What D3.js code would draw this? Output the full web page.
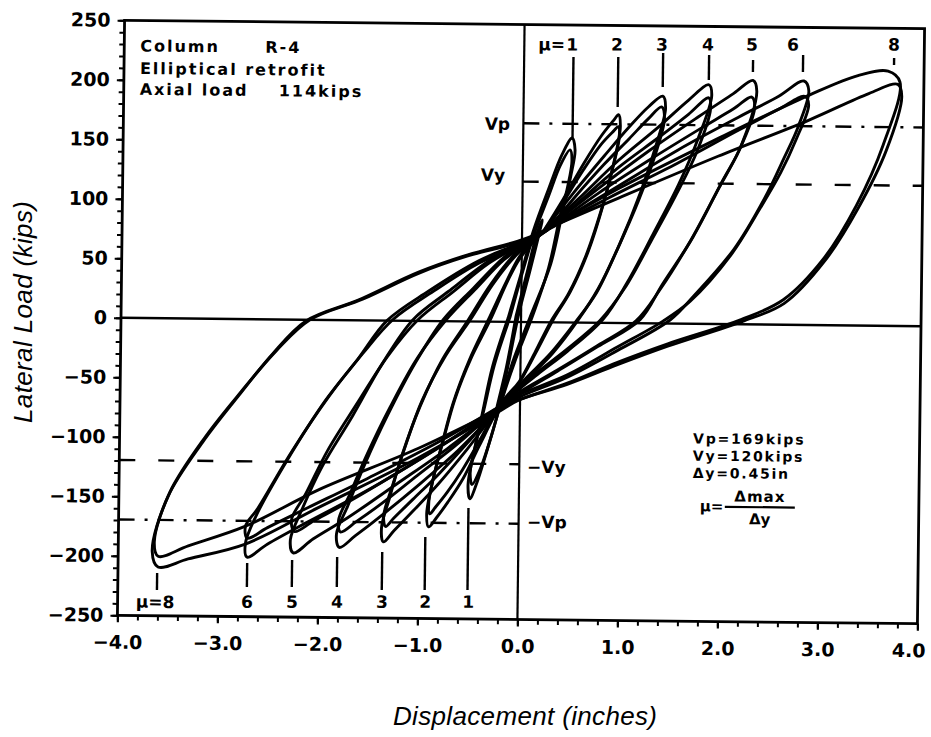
<!DOCTYPE html>
<html><head><meta charset="utf-8">
<script src="https://cdn.jsdelivr.net/npm/d3@7"></script>
<style>body{margin:0;background:#fff} svg{display:block;background:#fff}</style>
</head><body>
<svg id="chart" width="931" height="737"></svg>
<script>
// ---------- axis data ----------
const xTickValues = [-4,-3,-2,-1,0,1,2,3,4];
const xTickLabels = ["\u22124.0","\u22123.0","\u22122.0","\u22121.0","0.0","1.0","2.0","3.0","4.0"];
const yTickValues = [250,200,150,100,50,0,-50,-100,-150,-200,-250];
const yTickLabels = ["250","200","150","100","50","0","\u221250","\u2212100","\u2212150","\u2212200","\u2212250"];

// ---------- hysteresis loops: [displacement (in), lateral load (kips)] ----------
const loopElastic = [
  [[-0.05,5],[0.05,40],[0.15,75],[0.2,86],[0.17,74],[0.08,42],[-0.02,8],[-0.12,-35],[-0.2,-68],[-0.25,-80],[-0.22,-68],[-0.14,-38],[-0.05,5]]
];
const loopsMu1 = [
  [[-0.13,3],[-0.01,39],[0.11,76],[0.26,112],[0.39,141],[0.49,155],[0.52,145],[0.48,123],[0.4,92],[0.29,49],[0.09,4],[-0.08,-34],[-0.2,-71],[-0.32,-107],[-0.42,-135],[-0.49,-149],[-0.51,-137],[-0.46,-112],[-0.38,-79],[-0.28,-38],[-0.13,3]],
  [[-0.11,4],[0.0,39],[0.12,74],[0.26,106],[0.38,133],[0.47,145],[0.49,136],[0.45,114],[0.37,86],[0.27,46],[0.11,4],[-0.06,-34],[-0.19,-68],[-0.3,-101],[-0.4,-126],[-0.47,-137],[-0.49,-127],[-0.44,-104],[-0.36,-74],[-0.26,-36],[-0.11,4]]
];
const loopsMu2 = [
  [[0.21,76],[0.41,104],[0.61,134],[0.78,157],[0.9,170],[0.95,175],[0.97,165],[0.91,135],[0.81,100],[0.66,59],[0.49,26],[0.32,2],[0.15,-26],[-0.01,-51],[-0.13,-64],[-0.22,-74],[-0.4,-104],[-0.56,-132],[-0.71,-152],[-0.82,-165],[-0.9,-173],[-0.92,-162],[-0.87,-137],[-0.78,-105],[-0.67,-69],[-0.51,-32],[-0.33,1],[-0.15,34],[-0.03,54],[0.09,67],[0.21,76]],
  [[0.26,80],[0.43,104],[0.61,129],[0.78,150],[0.9,161],[0.95,165],[0.96,156],[0.89,127],[0.79,95],[0.64,56],[0.47,24],[0.3,1],[0.14,-26],[-0.01,-50],[-0.13,-62],[-0.22,-72],[-0.4,-100],[-0.57,-125],[-0.72,-144],[-0.83,-156],[-0.89,-162],[-0.9,-152],[-0.85,-129],[-0.76,-99],[-0.65,-65],[-0.49,-30],[-0.31,1],[-0.14,34],[-0.03,52],[0.1,66],[0.26,80]]
];
const loopsMu3 = [
  [[0.21,76],[0.51,109],[0.81,140],[1.06,165],[1.25,182],[1.39,191],[1.42,181],[1.33,150],[1.18,110],[0.98,67],[0.77,29],[0.57,2],[0.32,-26],[0.07,-48],[-0.08,-62],[-0.22,-74],[-0.52,-107],[-0.81,-137],[-1.06,-160],[-1.25,-177],[-1.35,-186],[-1.37,-174],[-1.29,-148],[-1.17,-112],[-1.0,-72],[-0.78,-32],[-0.53,1],[-0.31,31],[-0.08,56],[0.07,68],[0.21,76]],
  [[0.26,78],[0.51,104],[0.81,133],[1.06,155],[1.25,172],[1.38,182],[1.41,172],[1.32,141],[1.16,103],[0.96,63],[0.75,25],[0.55,1],[0.3,-26],[0.07,-46],[-0.08,-60],[-0.22,-72],[-0.52,-102],[-0.81,-129],[-1.06,-150],[-1.25,-166],[-1.33,-173],[-1.35,-164],[-1.27,-140],[-1.14,-105],[-0.98,-67],[-0.75,-29],[-0.51,1],[-0.29,31],[-0.08,54],[0.07,66],[0.26,78]]
];
const loopsMu4 = [
  [[0.21,76],[0.56,104],[0.96,137],[1.35,165],[1.65,188],[1.85,201],[1.88,192],[1.75,156],[1.56,117],[1.31,75],[1.05,33],[0.82,3],[0.47,-24],[0.17,-44],[-0.03,-58],[-0.22,-74],[-0.62,-109],[-1.02,-139],[-1.36,-163],[-1.63,-181],[-1.79,-191],[-1.82,-180],[-1.71,-156],[-1.54,-120],[-1.32,-79],[-1.05,-35],[-0.78,1],[-0.48,28],[-0.18,54],[0.02,66],[0.21,76]],
  [[0.26,78],[0.56,101],[0.96,131],[1.35,156],[1.65,176],[1.85,190],[1.87,181],[1.74,145],[1.54,109],[1.29,69],[1.03,29],[0.79,2],[0.47,-22],[0.17,-42],[-0.03,-56],[-0.22,-72],[-0.62,-103],[-1.02,-130],[-1.36,-153],[-1.62,-169],[-1.78,-178],[-1.8,-168],[-1.69,-146],[-1.52,-112],[-1.3,-73],[-1.03,-31],[-0.75,1],[-0.45,28],[-0.18,52],[0.02,64],[0.26,78]]
];
const loopsMu5 = [
  [[0.21,76],[0.76,113],[1.26,145],[1.75,174],[2.1,194],[2.29,205],[2.33,196],[2.18,150],[1.99,119],[1.71,73],[1.41,33],[1.19,3],[0.77,-20],[0.37,-41],[-0.03,-62],[-0.22,-74],[-0.72,-107],[-1.22,-137],[-1.71,-166],[-2.05,-184],[-2.25,-196],[-2.28,-185],[-2.16,-158],[-1.97,-123],[-1.67,-80],[-1.38,-36],[-1.08,1],[-0.73,25],[-0.33,51],[-0.03,66],[0.21,76]],
  [[0.26,78],[0.76,109],[1.26,137],[1.75,163],[2.1,181],[2.28,191],[2.31,182],[2.16,146],[1.96,114],[1.68,69],[1.39,29],[1.15,2],[0.77,-19],[0.37,-40],[-0.03,-60],[-0.22,-72],[-0.72,-101],[-1.22,-128],[-1.71,-153],[-2.05,-169],[-2.24,-178],[-2.27,-168],[-2.13,-146],[-1.92,-110],[-1.63,-70],[-1.33,-30],[-1.03,1],[-0.68,25],[-0.33,49],[-0.03,64],[0.26,78]]
];
const loopsMu6 = [
  [[0.21,76],[0.86,110],[1.55,146],[2.15,174],[2.55,192],[2.8,205],[2.85,197],[2.75,167],[2.61,140],[2.42,106],[2.12,63],[1.72,23],[1.49,3],[0.97,-23],[0.47,-46],[-0.03,-64],[-0.22,-74],[-0.82,-107],[-1.52,-143],[-2.11,-170],[-2.51,-189],[-2.71,-200],[-2.73,-189],[-2.63,-166],[-2.32,-118],[-1.94,-67],[-1.63,-33],[-1.34,0],[-0.93,25],[-0.43,51],[-0.03,66],[0.21,76]],
  [[0.26,78],[0.86,105],[1.55,135],[2.15,163],[2.55,181],[2.81,192],[2.85,185],[2.73,156],[2.58,128],[2.38,98],[2.09,58],[1.69,19],[1.42,2],[0.97,-20],[0.47,-44],[-0.03,-62],[-0.22,-72],[-0.82,-102],[-1.52,-133],[-2.11,-158],[-2.51,-175],[-2.71,-184],[-2.73,-174],[-2.61,-159],[-2.27,-110],[-1.91,-64],[-1.58,-28],[-1.28,1],[-0.88,25],[-0.43,49],[-0.03,64],[0.26,78]]
];
const loopsMu8 = [
  [[0.21,76],[0.96,113],[1.95,156],[2.85,193],[3.34,210],[3.64,214],[3.76,205],[3.6,152],[3.34,101],[3.01,55],[2.62,21],[2.2,4],[1.47,-17],[0.97,-33],[0.47,-51],[-0.02,-66],[-0.22,-76],[-1.01,-115],[-2.01,-158],[-2.73,-189],[-3.3,-202],[-3.6,-209],[-3.66,-196],[-3.51,-150],[-3.17,-104],[-2.82,-65],[-2.48,-29],[-2.15,-1],[-1.63,17],[-1.03,41],[-0.54,56],[-0.04,68],[0.21,76]],
  [[0.26,79],[0.96,105],[1.95,141],[2.85,172],[3.45,195],[3.74,203],[3.78,193],[3.63,147],[3.36,99],[3.03,54],[2.63,18],[2.23,3],[1.47,-19],[0.97,-35],[0.47,-52],[-0.03,-66],[-0.22,-74],[-1.01,-107],[-2.01,-143],[-2.73,-174],[-3.3,-191],[-3.6,-200],[-3.64,-188],[-3.49,-146],[-3.14,-99],[-2.79,-61],[-2.44,-26],[-2.11,0],[-1.58,18],[-1.03,40],[-0.54,55],[-0.03,67],[0.26,79]]
];

// ---------- ductility markers ----------
const topMuLabels = ["1","2","3","4","5","6","8"];
const topMuLabelDisp = [0.478,0.927,1.377,1.837,2.277,2.687,3.697];
const topMuLabelLoad = [228.5,228.9,229.4,229.8,230.1,230.5,231.4];
const topMuTickDisp = [0.493,0.941,1.389,1.849,2.289,2.789,3.699];
const topMuTickFrom = [223.1,223.5,227.3,226,222.2,226.9,225.2];
const topMuTickTo = [153.4,181.5,198.7,205,212.1,212.6,219.3];

const botMuLabels = ["\u03bc=8","6","5","4","3","2","1"];
const botMuLabelDisp = [-3.625,-2.705,-2.255,-1.805,-1.355,-0.925,-0.495];
const botMuLabelLoad = [-243.4,-242.6,-242.2,-241.8,-241.4,-241,-240.7];
const botMuTickDisp = [-3.608,-2.709,-2.26,-1.81,-1.36,-0.931,-0.503];
const botMuTickFrom = [-214.1,-205,-202,-199.1,-194.5,-181.5,-156.8];
const botMuTickTo = [-228.4,-225.1,-224.7,-224.3,-226.5,-226,-225.7];

// ---------- reference load levels ----------
const refNames = ["Vp","Vy","\u2212Vy","\u2212Vp"];
const refLoads = [167,118,-119.5,-169.5];
const refFromDisp = [0,0,-4,-4];
const refToDisp = [4,4,0,0];
const refKinds = ["dashdot","dash","dash","dashdot"];
const refLabelDisp = [-0.133,-0.177,0.078,0.085];
const refLabelLoad = [161.3,118.3,-126.8,-173];

// ---------- notes ----------
const noteTopLeft = ["Column      R-4","Elliptical retrofit","Axial load    114kips"];
const noteTopLeftDisp = -3.84;
const noteTopLeftLoad = [224,205,187.5];
const noteRight = ["Vp=169kips","Vy=120kips","\u0394y=0.45in"];
const noteRightDisp = 1.735;
const noteRightLoad = [-100.5,-115,-129.5];

// ---------- drawing ----------
const svg = d3.select("#chart");
const xs = d3.scaleLinear().domain([-4,4]).range([121,921]);
const ys = d3.scaleLinear().domain([-250,250]).range([619.5,24.5]);
const boldFont = "'DejaVu Sans', 'Liberation Sans', sans-serif";

// slightly skewed like the scanned original
const g = svg.append("g").attr("transform","matrix(1,0.0105,-0.012,1,3.864,-5.47)");

// minor ticks
g.append("g").attr("transform",`translate(${xs(-4)},0)`)
  .call(d3.axisLeft(ys).tickValues(d3.range(-250,251,10)).tickSize(5).tickFormat(""))
  .call(a=>a.select(".domain").remove())
  .call(a=>a.selectAll("line").attr("stroke","#000").attr("stroke-width",2));
g.append("g").attr("transform",`translate(0,${ys(-250)})`)
  .call(d3.axisBottom(xs).tickValues(d3.range(-20,21).map(v=>v/5)).tickSize(5).tickFormat(""))
  .call(a=>a.select(".domain").remove())
  .call(a=>a.selectAll("line").attr("stroke","#000").attr("stroke-width",2));

// major ticks with labels
g.append("g").attr("transform",`translate(${xs(-4)},0)`)
  .call(d3.axisLeft(ys).tickValues(yTickValues).tickSize(7).tickPadding(7)
        .tickFormat((d,i)=>yTickLabels[i]))
  .call(a=>a.select(".domain").remove())
  .call(a=>a.selectAll("line").attr("stroke","#000").attr("stroke-width",2.2))
  .call(a=>a.selectAll("text").attr("fill","#000").style("font-family",boldFont)
        .style("font-weight","bold").style("font-size","19px"));
g.append("g").attr("transform",`translate(0,${ys(-250)})`)
  .call(d3.axisBottom(xs).tickValues(xTickValues).tickSize(7).tickPadding(13)
        .tickFormat((d,i)=>xTickLabels[i]))
  .call(a=>a.select(".domain").remove())
  .call(a=>a.selectAll("line").attr("stroke","#000").attr("stroke-width",2.2))
  .call(a=>a.selectAll("text").attr("fill","#000").style("font-family",boldFont)
        .style("font-weight","bold").style("font-size","19px")
        .attr("dx",(d,i)=> i===xTickValues.length-1 ? -9 : 0));

// frame
g.append("rect").attr("x",xs(-4)).attr("y",ys(250))
  .attr("width",xs(4)-xs(-4)).attr("height",ys(-250)-ys(250))
  .attr("fill","none").attr("stroke","#000").attr("stroke-width",2.8);

// zero lines
g.append("line").attr("x1",xs(-4)).attr("x2",xs(4)).attr("y1",ys(0)).attr("y2",ys(0))
  .attr("stroke","#000").attr("stroke-width",2.4);
g.append("line").attr("x1",xs(0)).attr("x2",xs(0)).attr("y1",ys(250)).attr("y2",ys(-250))
  .attr("stroke","#000").attr("stroke-width",2.2);

// reference lines
refLoads.forEach((v,i)=>{
  g.append("line").attr("x1",xs(refFromDisp[i])).attr("x2",xs(refToDisp[i]))
    .attr("y1",ys(v)).attr("y2",ys(v))
    .attr("stroke","#000").attr("stroke-width",2.4)
    .attr("stroke-dasharray", refKinds[i]==="dash" ? "16,23" : "16,10,3,10");
  g.append("text").attr("x",xs(refLabelDisp[i])).attr("y",ys(refLabelLoad[i]))
    .attr("text-anchor", refLabelDisp[i] < 0 ? "end" : "start")
    .style("font-family",boldFont).style("font-weight","bold").style("font-size","17px")
    .text(refNames[i]);
});

// hysteresis curves
const line = d3.line().x(d=>xs(d[0])).y(d=>ys(d[1])).curve(d3.curveCatmullRom.alpha(0.5));
const allLoops = [loopElastic, loopsMu1, loopsMu2, loopsMu3, loopsMu4, loopsMu5, loopsMu6, loopsMu8];
allLoops.forEach(level=>level.forEach(cycle=>{
  g.append("path").datum(cycle).attr("d",line)
    .attr("fill","none").attr("stroke","#000").attr("stroke-width",2.9)
    .attr("stroke-linejoin","round");
}));

// ductility markers
topMuTickDisp.forEach((d,i)=>{
  g.append("line").attr("x1",xs(d)).attr("x2",xs(d)).attr("y1",ys(topMuTickFrom[i])).attr("y2",ys(topMuTickTo[i]))
    .attr("stroke","#000").attr("stroke-width",2.4);
  g.append("text").attr("x",xs(topMuLabelDisp[i])).attr("y",ys(topMuLabelLoad[i]))
    .attr("text-anchor","middle").style("font-family",boldFont).style("font-weight","bold").style("font-size","17px")
    .text(topMuLabels[i]);
});
g.append("text").attr("x",xs(topMuLabelDisp[0])-7).attr("y",ys(topMuLabelLoad[0]))
  .attr("text-anchor","end").style("font-family",boldFont).style("font-weight","bold").style("font-size","17px")
  .text("\u03bc=");
botMuTickDisp.forEach((d,i)=>{
  g.append("line").attr("x1",xs(d)).attr("x2",xs(d)).attr("y1",ys(botMuTickFrom[i])).attr("y2",ys(botMuTickTo[i]))
    .attr("stroke","#000").attr("stroke-width",2.4);
  g.append("text").attr("x",xs(botMuLabelDisp[i])).attr("y",ys(botMuLabelLoad[i]))
    .attr("text-anchor","middle").style("font-family",boldFont).style("font-weight","bold").style("font-size","17px")
    .text(botMuLabels[i]);
});

// notes
noteTopLeft.forEach((t,i)=>{
  g.append("text").attr("x",xs(noteTopLeftDisp)).attr("y",ys(noteTopLeftLoad[i]))
    .style("white-space","pre").style("font-family",boldFont).style("font-weight","bold")
    .style("font-size","16px").style("letter-spacing","2px").text(t);
});
noteRight.forEach((t,i)=>{
  g.append("text").attr("x",xs(noteRightDisp)).attr("y",ys(noteRightLoad[i]))
    .style("font-family",boldFont).style("font-weight","bold")
    .style("font-size","14px").style("letter-spacing","1.8px").text(t);
});
// mu = Δmax / Δy
g.append("text").attr("x",xs(1.81)).attr("y",ys(-157.5))
  .style("font-family",boldFont).style("font-weight","bold").style("font-size","15px").text("\u03bc=");
g.append("text").attr("x",xs(2.41)).attr("y",ys(-149))
  .attr("text-anchor","middle").style("font-family",boldFont).style("font-weight","bold")
  .style("font-size","15px").style("letter-spacing","1px").text("\u0394max");
g.append("line").attr("x1",xs(2.06)).attr("x2",xs(2.76)).attr("y1",ys(-153.5)).attr("y2",ys(-153.5))
  .attr("stroke","#000").attr("stroke-width",2.2);
g.append("text").attr("x",xs(2.41)).attr("y",ys(-168)).attr("text-anchor","middle")
  .style("font-family",boldFont).style("font-weight","bold").style("font-size","15px").text("\u0394y");

// axis titles
svg.append("text").attr("transform","translate(32,312) rotate(-90)")
  .attr("text-anchor","middle").attr("textLength",222).attr("lengthAdjust","spacing")
  .style("font-family","'Liberation Sans', Arial, sans-serif").style("font-style","italic")
  .style("font-size","26px").text("Lateral Load (kips)");
svg.append("text").attr("x",525).attr("y",725)
  .attr("text-anchor","middle").attr("textLength",264).attr("lengthAdjust","spacing")
  .style("font-family","'Liberation Sans', Arial, sans-serif").style("font-style","italic")
  .style("font-size","26px").text("Displacement (inches)");
</script>
</body></html>
